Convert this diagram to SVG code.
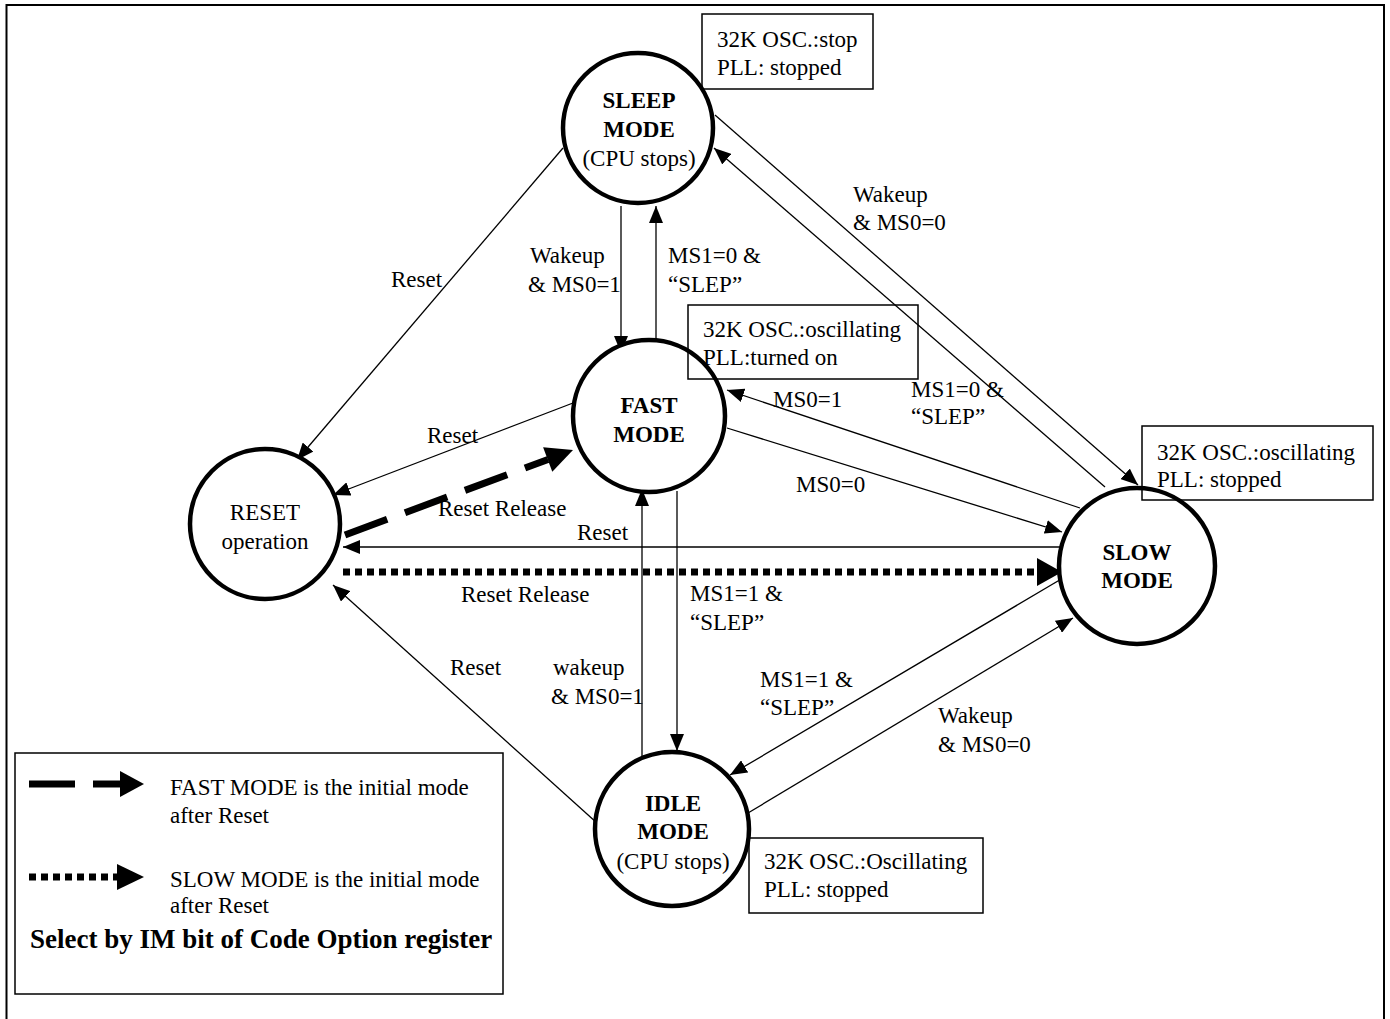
<svg xmlns="http://www.w3.org/2000/svg" width="1390" height="1019" viewBox="0 0 1390 1019">
<style>
text{font-family:"Liberation Serif","Times New Roman",serif;font-size:23px;fill:#000}
.b{font-weight:bold}
.m{text-anchor:middle}
.node{fill:#fff;stroke:#000;stroke-width:4.5}
.box{fill:none;stroke:#000;stroke-width:1.5}
.c{fill:none;stroke:#000;stroke-width:1.3}
.thick{fill:none;stroke:#000;stroke-width:7}
</style>
<defs>
<marker id="ah" markerUnits="userSpaceOnUse" markerWidth="18" markerHeight="14" refX="17" refY="7" orient="auto">
<path d="M0,0 L17,7 L0,14 z" fill="#000"/>
</marker>
</defs>
<rect x="6.5" y="5" width="1377.5" height="1030" fill="#fff" stroke="#000" stroke-width="2"/>

<g id="connectors">
<line class="c" x1="621" y1="206" x2="621" y2="353" marker-end="url(#ah)"/>
<line class="c" x1="656" y1="339" x2="656" y2="206" marker-end="url(#ah)"/>
<line class="c" x1="715" y1="115" x2="1138" y2="485" marker-end="url(#ah)"/>
<line class="c" x1="1105" y1="487" x2="714" y2="148" marker-end="url(#ah)"/>
<line class="c" x1="1080" y1="508" x2="727" y2="390" marker-end="url(#ah)"/>
<line class="c" x1="727" y1="428" x2="1062" y2="532" marker-end="url(#ah)"/>
<line class="c" x1="1060" y1="547" x2="343" y2="547" marker-end="url(#ah)"/>
<line class="thick" x1="343" y1="572" x2="1037" y2="572" stroke-dasharray="7 5"/>
<polygon points="1037,558 1062,572 1037,586" fill="#000"/>
<line class="thick" x1="345" y1="535" x2="548" y2="459.5" stroke-dasharray="45 19"/>
<polygon points="573,450 552.3,471.7 543.1,447.3" fill="#000"/>
<line class="c" x1="573" y1="403" x2="333" y2="495" marker-end="url(#ah)"/>
<line class="c" x1="563" y1="148" x2="297" y2="460" marker-end="url(#ah)"/>
<line class="c" x1="597" y1="823" x2="333" y2="585" marker-end="url(#ah)"/>
<line class="c" x1="677" y1="491" x2="677" y2="751" marker-end="url(#ah)"/>
<line class="c" x1="642" y1="765" x2="642" y2="489" marker-end="url(#ah)"/>
<line class="c" x1="1063" y1="578" x2="730" y2="775" marker-end="url(#ah)"/>
<line class="c" x1="748" y1="813" x2="1073" y2="618" marker-end="url(#ah)"/>
<text x="530" y="263">Wakeup</text>
<text x="528" y="292">&amp; MS0=1</text>
<text x="668" y="263">MS1=0 &amp;</text>
<text x="668" y="292">“SLEP”</text>
<text x="853" y="202">Wakeup</text>
<text x="853" y="230">&amp; MS0=0</text>
<text x="911" y="397">MS1=0 &amp;</text>
<text x="911" y="424">“SLEP”</text>
<text x="773" y="407">MS0=1</text>
<text x="796" y="492">MS0=0</text>
<text x="577" y="540">Reset</text>
<text x="427" y="443">Reset</text>
<text x="391" y="287">Reset</text>
<text x="438" y="516">Reset Release</text>
<text x="461" y="602">Reset Release</text>
<text x="450" y="675">Reset</text>
<text x="553" y="675">wakeup</text>
<text x="551" y="704">&amp; MS0=1</text>
<text x="690" y="601">MS1=1 &amp;</text>
<text x="690" y="630">“SLEP”</text>
<text x="760" y="687">MS1=1 &amp;</text>
<text x="760" y="715">“SLEP”</text>
<text x="938" y="723">Wakeup</text>
<text x="938" y="752">&amp; MS0=0</text>
</g>

<g id="sleep">
<circle class="node" cx="638" cy="128" r="75"/>
<text class="b m" x="639" y="108">SLEEP</text>
<text class="b m" x="639" y="137">MODE</text>
<text class="m" x="639" y="166">(CPU stops)</text>
</g>
<g id="sleep-info">
<rect class="box" x="702" y="14" width="171" height="75"/>
<text x="717" y="47">32K OSC.:stop</text>
<text x="717" y="75">PLL: stopped</text>
</g>

<g id="fast">
<circle class="node" cx="649" cy="416" r="76"/>
<text class="b m" x="649" y="413">FAST</text>
<text class="b m" x="649" y="442">MODE</text>
</g>
<g id="fast-info">
<rect class="box" x="688" y="305" width="230" height="74"/>
<text x="703" y="337">32K OSC.:oscillating</text>
<text x="703" y="365">PLL:turned on</text>
</g>

<g id="reset">
<circle class="node" cx="265" cy="524" r="75"/>
<text class="m" x="265" y="520">RESET</text>
<text class="m" x="265" y="549">operation</text>
</g>

<g id="slow">
<circle class="node" cx="1137" cy="566" r="78"/>
<text class="b m" x="1137" y="560">SLOW</text>
<text class="b m" x="1137" y="588">MODE</text>
</g>
<g id="slow-info">
<rect class="box" x="1142" y="426" width="231" height="74"/>
<text x="1157" y="460">32K OSC.:oscillating</text>
<text x="1157" y="487">PLL: stopped</text>
</g>

<g id="idle">
<circle class="node" cx="672" cy="829" r="77"/>
<text class="b m" x="673" y="811">IDLE</text>
<text class="b m" x="673" y="839">MODE</text>
<text class="m" x="673" y="869">(CPU stops)</text>
</g>
<g id="idle-info">
<rect class="box" x="749" y="838" width="234" height="75"/>
<text x="764" y="869">32K OSC.:Oscillating</text>
<text x="764" y="897">PLL: stopped</text>
</g>

<g id="legend">
<rect class="box" x="15" y="753" width="488" height="241"/>
<line class="thick" x1="29" y1="784" x2="75" y2="784"/>
<line class="thick" x1="93" y1="784" x2="121" y2="784"/>
<polygon points="120,771 144,784 120,797" fill="#000"/>
<text x="170" y="795">FAST MODE is the initial mode</text>
<text x="170" y="823">after Reset</text>
<line class="thick" x1="29" y1="877" x2="117" y2="877" stroke-dasharray="7 5"/>
<polygon points="117,864 144,877 117,890" fill="#000"/>
<text x="170" y="887">SLOW MODE is the initial mode</text>
<text x="170" y="913">after Reset</text>
<text class="b" x="30" y="948" style="font-size:27px">Select by IM bit of Code Option register</text>
</g>
</svg>
